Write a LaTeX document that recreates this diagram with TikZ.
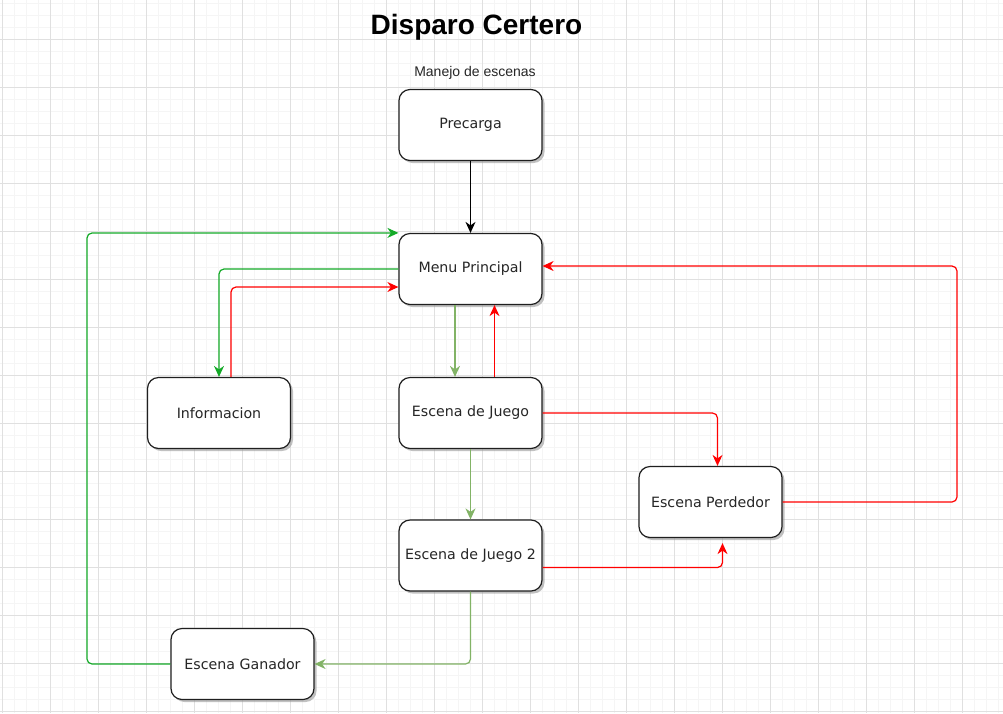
\documentclass[tikz,border=0pt]{standalone}
\usepackage{fontspec}
\usetikzlibrary{arrows.meta,shadows}
\newfontfamily\boxfont{DejaVu Sans}
\newfontfamily\headfont{Liberation Sans}
\definecolor{linkred}{RGB}{255,0,0}
\definecolor{linkgreen}{RGB}{20,170,40}
\definecolor{softgreen}{HTML}{82B366}
\tikzset{
  scenebox/.style={draw=black!88, line width=1.2pt, fill=white, rounded corners=11pt,
    minimum width=143pt, minimum height=71pt, text=black!85,
    font=\boxfont\fontsize{14.2}{17}\selectfont,
    drop shadow={shadow xshift=2.5pt, shadow yshift=-2.5pt, fill=black!40, opacity=0.6}},
  link/.style={line width=1.2pt, rounded corners=5pt, -{Stealth[length=11pt,width=10pt,inset=3.5pt]}},
  gridminor/.style={line width=0.8pt, color=black!4},
  gridmajor/.style={line width=0.8pt, color=black!12}
}

\begin{document}
\begin{tikzpicture}[x=1pt, y=-1pt]
			%%%%% START %%%%%
			\useasboundingbox (0,0) rectangle (1003,713);
			\fill[white] (0,0) rectangle (1003,713);
			
			% grid
			\foreach \gx in {2.5,14.5,...,1003} \draw[gridminor] (\gx,0) -- (\gx,713);
			\foreach \gy in {3.5,15.5,...,713} \draw[gridminor] (0,\gy) -- (1003,\gy);
			\foreach \gx in {2.5,50.5,...,1003} \draw[gridmajor] (\gx,0) -- (\gx,713);
			\foreach \gy in {39.5,87.5,...,713} \draw[gridmajor] (0,\gy) -- (1003,\gy);
			
			\node[font=\headfont\bfseries\fontsize{28}{32}\selectfont] (title) at (476.5, 27) {Disparo Certero};
			\node[font=\headfont\fontsize{14}{17}\selectfont, text=black!85] (subtitle) at (475, 73) {Manejo de escenas};
			
			\node[scenebox] (pre) at (470.5, 125) {Precarga};
			\node[scenebox] (menu) at (470.5, 269) {Menu Principal};
			\node[scenebox] (info) at (219, 413) {Informacion};
			\node[scenebox] (juego) at (470.5, 413) {Escena de Juego};
			\node[scenebox] (juego2) at (470.5, 555.5) {Escena de Juego 2};
			\node[scenebox] (perd) at (710.5, 502) {Escena Perdedor};
			\node[scenebox] (gan) at (242.5, 664) {Escena Ganador};
			
			\coordinate (gturn) at (87, 233);
			\coordinate (rturn) at (957, 266);
			
			\draw[link, black] (pre.south) -- (menu.north);
			\draw[link, linkgreen] (gan.west) -| (gturn) -- (menu.north west);
			\draw[link, linkgreen] (menu.west) -| (info.north);
			\draw[link, linkred] ([xshift=12pt]info.north) |- ([yshift=-18pt]menu.west);
			\draw[link, softgreen] ([xshift=-15.5pt]menu.south) -- ([xshift=-15.5pt]juego.north);
			\draw[link, linkred] ([xshift=24pt]juego.north) -- ([xshift=24pt]menu.south);
			\draw[link, linkred] (juego.east) -| ([xshift=7pt]perd.north);
			\draw[link, softgreen] (juego.south) -- (juego2.north);
			\draw[link, linkred] ([yshift=-12pt]juego2.east) -| ([xshift=12pt, yshift=-5pt]perd.south);
			\draw[link, linkred] (perd.east) -| (rturn) -- ([yshift=3pt]menu.east);
			\draw[link, softgreen] (juego2.south) |- (gan.east);
			
			%%%%% END %%%%%
\end{tikzpicture}
\end{document}
